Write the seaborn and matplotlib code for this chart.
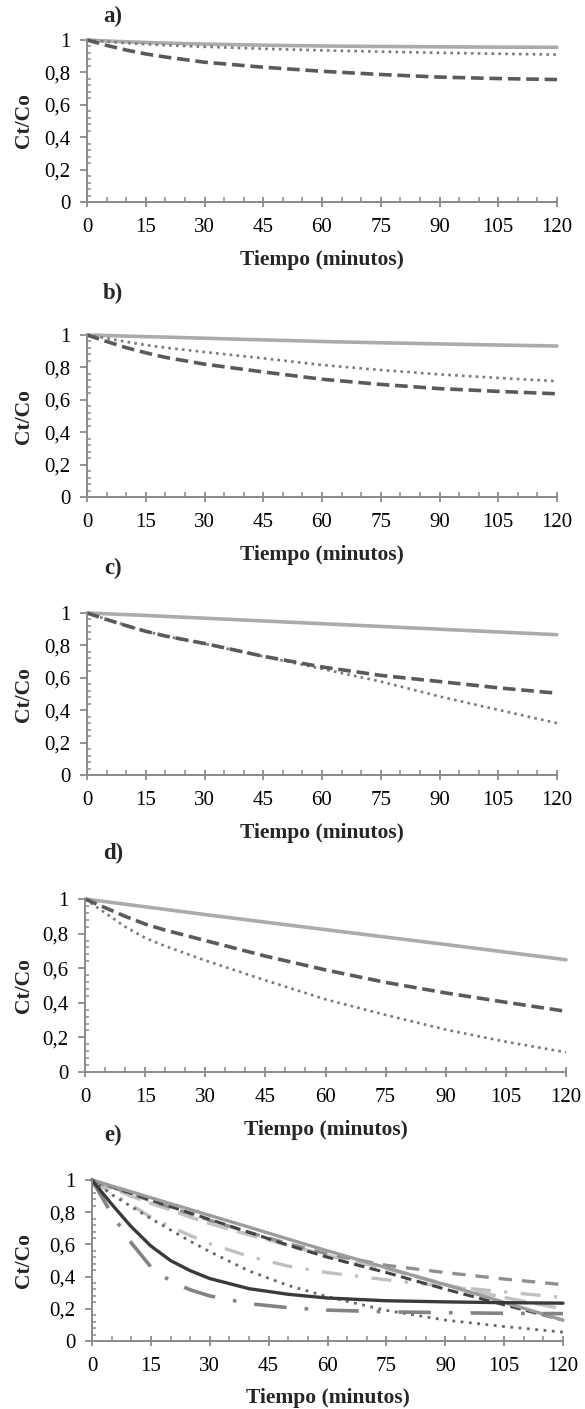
import matplotlib
matplotlib.use("Agg")
import matplotlib.pyplot as plt
from matplotlib.ticker import MultipleLocator, FixedLocator, FuncFormatter
import seaborn as sns

sns.set_style("ticks")
plt.rcParams['font.family'] = ['Liberation Serif', 'DejaVu Serif']

# ---------------- data ----------------
t_ad = [0, 5, 10, 15, 20, 30, 45, 60, 75, 90, 105, 120]

a_solid = [1, .994, .989, .985, .981, .975, .968, .963, .960, .958, .956, .955]
a_dot = [1, .990, .981, .974, .968, .958, .946, .936, .928, .921, .915, .910]
a_dash = [1, .967, .938, .914, .895, .863, .832, .807, .787, .771, .762, .756]

b_solid = [1, .997, .993, .990, .987, .980, .970, .960, .952, .945, .938, .932]
b_dot = [1, .980, .958, .938, .922, .895, .856, .815, .784, .757, .735, .715]
b_dash = [1, .960, .922, .890, .862, .820, .772, .727, .695, .669, .652, .637]

c_solid = [1, .995, .990, .985, .979, .968, .951, .934, .917, .900, .883, .866]
c_dash = [1, .960, .922, .887, .858, .812, .733, .667, .615, .577, .538, .505]
c_dot = [1, .962, .924, .888, .857, .810, .732, .655, .577, .485, .402, .320]

d_solid = [1, .985, .970, .955, .940, .910, .866, .823, .780, .737, .693, .649]
d_dash = [1, .950, .900, .855, .820, .760, .670, .590, .518, .457, .403, .351]
d_dot = [1, .920, .840, .775, .728, .645, .530, .420, .330, .245, .175, .114]

t_e = [0, 5, 10, 15, 20, 25, 30, 40, 50, 60, 75, 90, 105, 120]
e_solid_gray = [1, .963, .927, .890, .853, .817, .780, .707, .633, .560, .455, .350, .240, .130]
e_dark_dash = [1, .958, .917, .875, .835, .795, .755, .675, .595, .520, .425, .322, .225, .130]
e_med_dash = [1, .957, .913, .870, .830, .790, .750, .675, .605, .540, .470, .425, .385, .350]
e_light_longdash = [1, .950, .900, .855, .815, .770, .730, .660, .595, .530, .450, .350, .270, .200]
e_light_dashdot = [1, .920, .845, .770, .710, .655, .605, .525, .465, .425, .380, .340, .305, .270]
e_dotted = [1, .910, .835, .760, .690, .620, .555, .435, .345, .275, .190, .130, .090, .055]
e_solid_dark = [1, .850, .710, .590, .500, .437, .388, .325, .290, .267, .250, .243, .238, .235]
e_med_dashdot = [1, .790, .610, .460, .372, .318, .280, .232, .207, .192, .181, .176, .172, .170]

x_ticks = [0, 15, 30, 45, 60, 75, 90, 105, 120]
y_ticks = [0, 0.2, 0.4, 0.6, 0.8, 1.0]
panel_labels = ['a)', 'b)', 'c)', 'd)', 'e)']
x_label = 'Tiempo (minutos)'
y_label = 'Ct/Co'

# ---------------- figure ----------------
W, H = 585, 1409
DPI = 100
fig = plt.figure(figsize=(W / DPI, H / DPI), dpi=DPI)
AX_GRAY = '#8a8a8a'
TICK_FS = 15
LABEL_FS = 15.5


def make_ax(left, right, top, bottom):
    return fig.add_axes([left / W, 1 - bottom / H, (right - left) / W, (bottom - top) / H])


def fmt(v, p):
    if abs(v) < 1e-9:
        return '0'
    if abs(v - 1) < 1e-9:
        return '1'
    return f'{v:.1f}'.replace('.', ',')


def style_ax(ax, xlabel_y_px, top, bottom, left, right):
    ax.set_xlim(0, 120)
    ax.set_ylim(0, 1)
    ax.xaxis.set_major_locator(FixedLocator(x_ticks))
    ax.xaxis.set_minor_locator(MultipleLocator(5))
    ax.yaxis.set_major_locator(FixedLocator(y_ticks))
    ax.yaxis.set_minor_locator(MultipleLocator(0.04))
    ax.yaxis.set_major_formatter(FuncFormatter(fmt))
    for s in ['top', 'right']:
        ax.spines[s].set_visible(False)
    for s in ['left', 'bottom']:
        ax.spines[s].set_color(AX_GRAY)
        ax.spines[s].set_linewidth(1.4)
    ax.tick_params(axis='x', which='major', direction='inout', length=7.5, width=1.3,
                   color=AX_GRAY, labelsize=TICK_FS, pad=8, labelcolor='black')
    ax.tick_params(axis='x', which='minor', direction='in', length=3.6, width=1.1, color=AX_GRAY)
    ax.tick_params(axis='y', which='major', direction='out', length=5, width=1.3,
                   color=AX_GRAY, labelsize=TICK_FS, pad=7, labelcolor='black')
    ax.tick_params(axis='y', which='minor', direction='in', length=3.2, width=1.1, color=AX_GRAY)
    ax.set_xlabel(x_label, fontsize=LABEL_FS, fontweight='bold')
    ax.set_ylabel(y_label, fontsize=LABEL_FS, fontweight='bold')
    hpx = bottom - top
    wpx = right - left
    ax.xaxis.label.set_va('center')
    ax.xaxis.set_label_coords(0.5, -(xlabel_y_px - bottom) / hpx)
    ax.yaxis.label.set_va('center')
    ax.yaxis.set_label_coords(-(left - 24) / wpx, 0.5)
    ax.set_facecolor('white')


SOLID_L = '#ababab'
DOT_C = '#7a7a7a'
DASH_C = '#5a5a5a'

panels = [
    # left, right, top, bottom, xlabel_y, label_y, series
    (87, 557, 40, 202, 260, 16, (a_solid, a_dot, a_dash)),
    (87, 557, 335, 497, 555, 293, (b_solid, b_dot, b_dash)),
    (87, 557, 613, 775, 833, 568, (c_solid, c_dot, c_dash)),
    (85, 566, 899, 1072, 1130, 853, (d_solid, d_dot, d_dash)),
]

for i, (l, r, t, b, xly, lly, (s_solid, s_dot, s_dash)) in enumerate(panels):
    ax = make_ax(l, r, t, b)
    sns.lineplot(x=t_ad, y=s_solid, ax=ax, color=SOLID_L, lw=2.6, linestyle='-', clip_on=False)
    sns.lineplot(x=t_ad, y=s_dot, ax=ax, color=DOT_C, lw=1.9, linestyle=(0, (1, 1.6)), clip_on=False)
    sns.lineplot(x=t_ad, y=s_dash, ax=ax, color=DASH_C, lw=2.6, linestyle=(0, (3.5, 1.6)), clip_on=False)
    style_ax(ax, xly, t, b, l, r)
    fig.text(113 / W, 1 - lly / H, panel_labels[i], fontsize=16.5, fontweight='bold',
             ha='center', va='center')

# panel e
l, r, t, b = 92, 563, 1180, 1341
ax = make_ax(l, r, t, b)
series_e = [
    (e_light_longdash, '#c4c4c4', 2.6, (0, (6, 2.5))),
    (e_light_dashdot, '#c0c0c0', 2.4, (0, (6, 4, 1, 4))),
    (e_med_dash, '#8f8f8f', 2.4, (0, (4, 3))),
    (e_dark_dash, '#444444', 2.2, (0, (3.5, 1.8))),
    (e_solid_gray, '#9c9c9c', 2.4, '-'),
    (e_dotted, '#666666', 2.0, (0, (1, 2))),
    (e_med_dashdot, '#838383', 2.6, (0, (9, 5, 1, 5))),
    (e_solid_dark, '#3a3a3a', 2.4, '-'),
]
for vals, col, lw, ls in series_e:
    sns.lineplot(x=t_e, y=vals, ax=ax, color=col, lw=lw, linestyle=ls, clip_on=False)
style_ax(ax, 1398, t, b, l, r)
fig.text(113 / W, 1 - 1135 / H, panel_labels[4], fontsize=16.5, fontweight='bold',
         ha='center', va='center')

fig.savefig('out.png', dpi=DPI, facecolor='white')
